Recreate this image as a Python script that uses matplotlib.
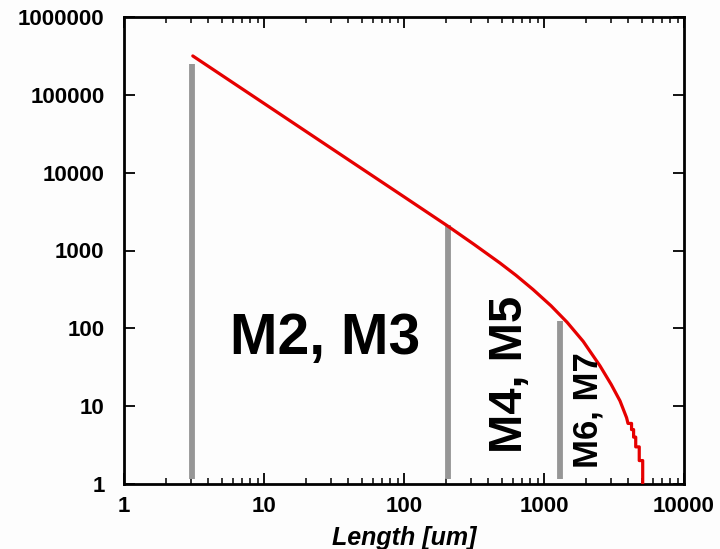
import matplotlib
matplotlib.use("Agg")
import matplotlib.pyplot as plt
from matplotlib.ticker import LogLocator, NullFormatter, NullLocator

plt.rcParams['font.family'] = ['Liberation Sans', 'DejaVu Sans']

# Red curve: cumulative wire count vs length
length = [3.1, 10, 31.6, 100, 203, 316, 485, 631, 834, 1122, 1460, 1905, 2510,
          3020, 3490, 3890,
          3980, 4220, 4220, 4365, 4365, 4520, 4520, 4790, 4790, 5070, 5070]
count = [316000, 77600, 19500, 4900, 2090, 1200, 690, 480, 316, 195, 120, 68, 33,
         19, 11.7, 7.1,
         6, 6, 5, 5, 4, 4, 3, 3, 2, 2, 1]

# Gray vertical markers (metal-layer boundaries)
bar_x = [3.06, 206, 1300]
bar_top = [250000, 2150, 126]
bar_bottom = 1.16

# Region labels
labels = ["M2, M3", "M4, M5", "M6, M7"]
label_x = [5.72, 697, 2430]
label_y = [46.4, 2.50, 1.60]

xticks = [1, 10, 100, 1000, 10000]
xtick_labels = ["1", "10", "100", "1000", "10000"]
yticks = [1, 10, 100, 1000, 10000, 100000, 1000000]
ytick_labels = ["1", "10", "100", "1000", "10000", "100000", "1000000"]

fig = plt.figure(figsize=(7.2, 5.49), dpi=100)
fig.patch.set_facecolor('#fdfdfd')
ax = fig.add_axes([124/720, 1 - 484/549, (684-124)/720, (484-17)/549])
ax.set_facecolor('#fdfdfd')
ax.set_xscale('log')
ax.set_yscale('log')
ax.set_xlim(1, 10000)
ax.set_ylim(1, 1000000)

ax.vlines(bar_x, bar_bottom, bar_top, colors='#969696', linewidth=4.2, zorder=2)
ax.plot(length, count, color='#e60000', linewidth=2.3, zorder=3,
        solid_capstyle='round', solid_joinstyle='round')

ax.text(label_x[0], label_y[0], labels[0], fontsize=41, fontweight='bold',
        ha='left', va='baseline')
ax.text(label_x[1], label_y[1], labels[1], fontsize=34, fontweight='bold',
        rotation=90, rotation_mode='anchor', ha='left', va='baseline')
ax.text(label_x[2], label_y[2], labels[2], fontsize=25, fontweight='bold',
        rotation=90, rotation_mode='anchor', ha='left', va='baseline')

ax.set_xticks(xticks)
ax.set_xticklabels(xtick_labels)
ax.set_yticks(yticks)
ax.set_yticklabels(ytick_labels)
ax.xaxis.set_minor_locator(LogLocator(base=10, subs=range(2, 10), numticks=20))
ax.xaxis.set_minor_formatter(NullFormatter())
ax.yaxis.set_minor_locator(NullLocator())

for lab in ax.get_xticklabels() + ax.get_yticklabels():
    lab.set_fontweight('bold')
    lab.set_fontsize(16)

ax.tick_params(which='major', direction='in', length=8, width=1.3,
               top=True, right=True, pad=9)
ax.tick_params(axis='y', which='major', pad=14)
ax.tick_params(which='minor', direction='in', length=4, width=1.1,
               top=True, right=True)
for sp in ax.spines.values():
    sp.set_linewidth(2.0)

ax.set_xlabel("Length [um]", fontsize=18, fontweight='bold', style='italic', labelpad=6)

fig.savefig("out.png", dpi=100, facecolor=fig.get_facecolor())
